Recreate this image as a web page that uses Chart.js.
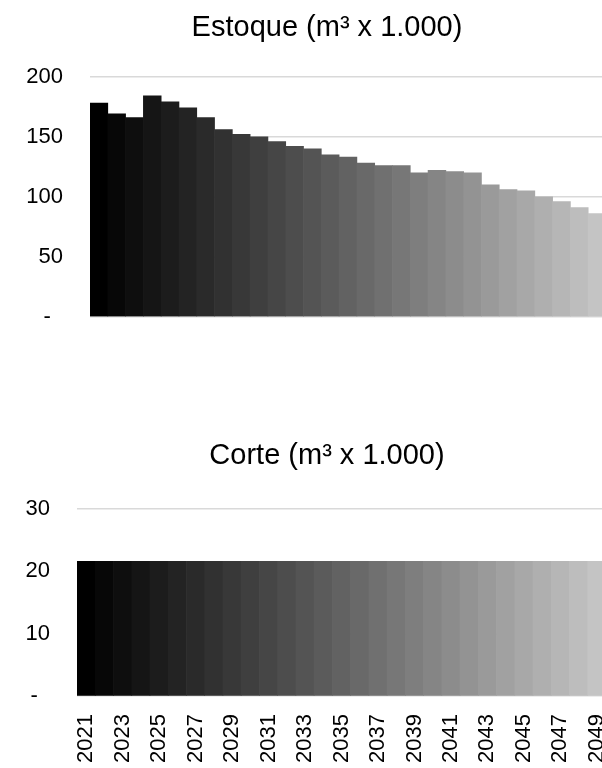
<!DOCTYPE html>
<html>
<head>
<meta charset="utf-8">
<script src="https://cdn.jsdelivr.net/npm/chart.js@4/dist/chart.umd.min.js"></script>
<style>
  html, body { margin: 0; padding: 0; background: #fff; overflow: hidden; }
  .box { position: absolute; left: 0; }
  #estoqueBox { top: 0; }
  #corteBox { top: 400px; }
</style>
</head>
<body>
<div class="box" id="estoqueBox"><canvas id="estoqueChart" width="654" height="330"></canvas></div>
<div class="box" id="corteBox"><canvas id="corteChart" width="654" height="388"></canvas></div>

<script>
var anos = ['2021', '2022', '2023', '2024', '2025', '2026', '2027', '2028', '2029', '2030',
  '2031', '2032', '2033', '2034', '2035', '2036', '2037', '2038', '2039', '2040',
  '2041', '2042', '2043', '2044', '2045', '2046', '2047', '2048', '2049'];

var estoque = [178, 169, 166, 184, 179, 174, 166, 156, 152, 150,
  146, 142, 140, 135, 133, 128, 126, 126, 120, 122,
  121, 120, 110, 106, 105, 100, 96, 91, 86];

var corte = [21.6, 21.6, 21.6, 21.6, 21.6, 21.6, 21.6, 21.6, 21.6, 21.6,
  21.6, 21.6, 21.6, 21.6, 21.6, 21.6, 21.6, 21.6, 21.6, 21.6,
  21.6, 21.6, 21.6, 21.6, 21.6, 21.6, 21.6, 21.6, 21.6];

var ticksEstoque = [0, 50, 100, 150, 200];
var ticksCorte = [0, 10, 20, 30];

// one gray per year, black to light gray
var cores = anos.map(function (a, i) {
  var g = Math.round(i * 7);
  return 'rgb(' + g + ',' + g + ',' + g + ')';
});

Chart.defaults.font.family = '"Liberation Sans", Arial, sans-serif';
Chart.defaults.color = '#000';
Chart.defaults.animation = false;

function montar(id, titulo, valores, marcas, mostrarAnos, tituloPad, padBaixo, largEixo) {
  var ctx = document.getElementById(id).getContext('2d');
  return new Chart(ctx, {
    type: 'bar',
    data: {
      labels: anos,
      datasets: [{
        data: valores,
        backgroundColor: cores,
        borderWidth: 0,
        categoryPercentage: 1,
        barPercentage: 1
      }]
    },
    options: {
      responsive: false,
      layout: { padding: { left: 0, right: 0, top: 0, bottom: padBaixo } },
      plugins: {
        legend: { display: false },
        tooltip: { enabled: false },
        title: {
          display: true,
          text: titulo,
          font: { size: 29, weight: 'normal' },
          color: '#000',
          padding: tituloPad
        }
      },
      scales: {
        x: {
          grid: { display: false, drawTicks: false },
          border: { display: false },
          ticks: {
            display: mostrarAnos,
            autoSkip: false,
            minRotation: 90,
            maxRotation: 90,
            padding: 18,
            font: { size: 22 },
            callback: function (v, i) { return i % 2 === 0 ? anos[i] : ''; }
          }
        },
        y: {
          min: marcas[0],
          max: marcas[marcas.length - 1],
          afterBuildTicks: function (s) {
            s.ticks = marcas.map(function (v) { return { value: v }; });
          },
          afterFit: function (s) { s.width = largEixo; },
          // invisible tick marks keep the labels away from the bars
          grid: { color: '#d9d9d9', lineWidth: 1.5, drawTicks: true, tickLength: 27, tickColor: 'rgba(0,0,0,0)' },
          border: { display: false },
          ticks: {
            padding: 0,
            font: { size: 22 },
            callback: function (v) { return v === 0 ? '-  ' : v; }
          }
        },
        // empty strip on the right so the title sits over the whole frame
        margem: {
          type: 'linear',
          position: 'right',
          grid: { display: false },
          border: { display: false },
          ticks: { display: false },
          afterFit: function (s) { s.width = 48; }
        }
      }
    }
  });
}

montar('estoqueChart', 'Estoque (m³ x 1.000)', estoque, ticksEstoque, false, { top: 10.5, bottom: 31.4 }, 13, 90);
montar('corteChart', 'Corte (m³ x 1.000)', corte, ticksCorte, true, { top: 38.6, bottom: 35.6 }, 7, 77);
</script>
</body>
</html>
